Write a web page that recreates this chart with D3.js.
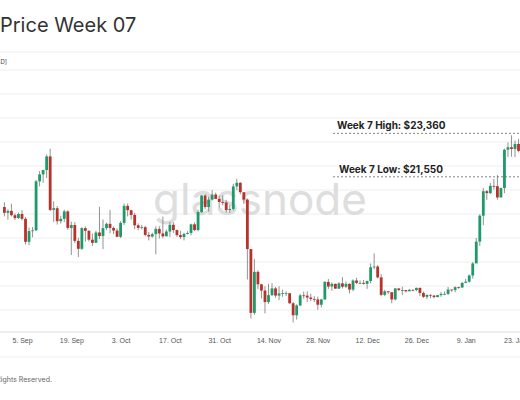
<!DOCTYPE html>
<html><head><meta charset="utf-8">
<script src="https://cdn.jsdelivr.net/npm/d3@7"></script>
<style>body{margin:0;background:#fff}svg{display:block;font-family:Inter,"Noto Sans",sans-serif}</style>
</head><body><svg id="chart" width="520" height="400"></svg>
<script>
// daily candles from 31 Aug 2022, open = previous close
var startDay = "2022-08-31";
var firstOpen = 20290;
var closes = [20050,
 20130,19950,19830,20000,19800,18840,19290,19320,21360,21650,21830,22400,20170,20240,19700,19800,20110,19420,19540,18880,18550,19410,19300,18930,18800,19230,19080,19410,19590,19420,
 19310,19050,19630,20340,20160,19960,19530,19420,19450,19130,19060,19160,19380,19190,19070,19270,19550,19330,19120,19040,19170,19210,19570,19330,20080,20770,20290,20600,20810,20630,20500,
 20480,20160,20210,21150,21300,20910,20600,18540,15880,17590,17070,16810,16330,16620,16900,16600,16690,16700,16700,16280,15780,16190,16610,16600,16520,16460,16440,16220,16440,17170,
 16980,17090,16890,17110,16970,17090,16850,17230,17130,17130,17090,17210,17780,17810,17360,16630,16780,16740,16440,16900,16830,16830,16780,16840,16830,16920,16710,16550,16630,16600,16540,
 16620,16670,16670,16850,16830,16950,16940,17130,17180,17440,17940,18850,19930,20950,20870,21170,21160,20690,21080,22680,22780,22710,22920,22630,23060,23010,23080,23030];
var highs = [20490,
 20200,20430,20030,20060,20160,19880,19440,19460,21420,21790,21840,22480,22720,20530,20330,19930,20180,20150,19680,19660,19010,19450,19480,19320,19180,19300,20300,19770,19640,20170,
 19480,19400,19700,20440,20440,20040,20050,19610,19550,19510,19250,19220,19480,19490,19890,19350,19670,19650,19350,19300,19220,19280,19600,19650,20180,20800,20830,20720,20990,20890,20770,
 20780,20590,20370,21260,21470,21320,20650,20650,18540,18120,17650,17090,16990,17090,17120,16960,16990,16850,16780,16690,16330,16240,16670,16770,16780,16680,16580,16560,16470,17200,
 17290,17150,17100,17160,17370,17180,17110,17280,17340,17230,17250,17220,17940,18360,17870,17500,16840,16770,16750,16900,16890,16970,16830,16880,16860,16940,16940,16770,16650,16650,16630,
 16630,16750,16770,16960,16860,16990,16970,17160,17300,17480,18000,19000,19990,21080,21000,21290,21460,21620,21110,22720,22980,23280,23060,23130,23360,23240,23230,23160];
var lows = [19900,
 19760,19900,19750,19790,19730,18730,18700,19030,19290,21150,21300,21500,20120,19670,19560,19600,19660,19340,18290,18780,18200,18500,18850,18860,18670,18800,18950,18540,19330,19200,
 19160,19040,19000,19540,19900,19770,19370,19320,19360,19070,18900,19020,18320,18980,18990,19070,19050,19210,19050,18960,18900,19150,19110,19280,19280,20030,20200,20100,20570,20620,20230,
 20360,20060,20050,20150,21000,20820,20420,17270,15650,15800,16870,16480,15860,16250,16580,16510,16410,16550,16580,16260,15480,15600,16160,16470,16330,16370,16330,16010,16110,16430,
 16880,16800,16880,16880,16900,16920,16690,16780,17080,17080,17060,16880,17110,17700,17310,16580,16580,16660,16280,16400,16800,16620,16730,16790,16780,16780,16580,16500,16450,16490,16480,
 16530,16550,16620,16620,16760,16740,16880,16910,17130,17140,17310,17970,18670,19530,20590,20830,21020,20600,20690,20870,22370,22390,22370,22570,22490,22740,22560,22750];
var xTicks = ["2022-09-05","2022-09-19","2022-10-03","2022-10-17","2022-10-31","2022-11-14","2022-11-28","2022-12-12","2022-12-26","2023-01-09","2023-01-23"];
var yGrid = [16000,17000,18000,19000,20000,21000,22000,23000,24000,25000,26000];
var weekHigh = 23360, weekLow = 21550;

var parse = d3.timeParse("%Y-%m-%d");
var t0 = parse(startDay);
var candles = closes.map(function(c, i) {
  return {date: d3.timeDay.offset(t0, i), open: i ? closes[i-1] : firstOpen, close: c, high: highs[i], low: lows[i]};
});

var svg = d3.select("#chart");
var x = d3.scaleTime().domain([parse("2022-09-05"), parse("2023-01-23")]).range([22, 515]);
var y = d3.scaleLinear().domain([15000, 27000]).range([334, 46]);

svg.append("text").attr("x", 0).attr("y", 32).attr("font-size", 20).attr("fill", "#333").text("Price Week 07");
svg.append("line").attr("x1", 0).attr("x2", 520).attr("y1", 52).attr("y2", 52).attr("stroke", "#eee");
svg.append("text").attr("x", 7).attr("y", 64).attr("text-anchor", "end").attr("font-size", 6).attr("fill", "#444").text("[USD]");

svg.append("g").selectAll("line").data(yGrid).enter().append("line")
  .attr("x1", 0).attr("x2", 520).attr("y1", function(d) { return y(d); }).attr("y2", function(d) { return y(d); })
  .attr("stroke", "#eeeeee");
svg.append("line").attr("x1", 0).attr("x2", 520).attr("y1", 332).attr("y2", 332).attr("stroke", "#ddd");

svg.append("text").attr("x", 260).attr("y", 215).attr("text-anchor", "middle").attr("font-size", 44)
  .attr("fill", "#d6d6d6").attr("opacity", 0.8).text("glassnode");

var xAxis = svg.append("g").attr("transform", "translate(0,332)")
  .call(d3.axisBottom(x).tickValues(xTicks.map(parse)).tickFormat(d3.timeFormat("%-d. %b")).tickSize(0).tickPadding(6));
xAxis.select(".domain").remove();
xAxis.selectAll("text").attr("font-size", 7).attr("fill", "#555");

var g = svg.append("g");
g.selectAll("line").data(candles).enter().append("line")
  .attr("x1", function(d) { return x(d.date); }).attr("x2", function(d) { return x(d.date); })
  .attr("y1", function(d) { return y(d.high); }).attr("y2", function(d) { return y(d.low); })
  .attr("stroke", "#777").attr("stroke-width", 0.8);
g.selectAll("rect").data(candles).enter().append("rect")
  .attr("x", function(d) { return x(d.date) - 1.4; }).attr("width", 2.8)
  .attr("y", function(d) { return y(Math.max(d.open, d.close)); })
  .attr("height", function(d) { return Math.max(0.8, Math.abs(y(d.open) - y(d.close))); })
  .attr("fill", function(d) { return d.close >= d.open ? "#1e9a6a" : "#b8312b"; });

[[weekHigh, "Week 7 High: $23,360", 337], [weekLow, "Week 7 Low: $21,550", 339]].forEach(function(a) {
  svg.append("line").attr("x1", 333).attr("x2", 520).attr("y1", y(a[0])).attr("y2", y(a[0]))
    .attr("stroke", "#666").attr("stroke-dasharray", "2,2").attr("stroke-width", 0.8);
  svg.append("text").attr("x", a[2]).attr("y", y(a[0]) - 4).attr("font-size", 10).attr("font-weight", "bold")
    .attr("fill", "#222").text(a[1]);
});

svg.append("line").attr("x1", 0).attr("x2", 520).attr("y1", 357).attr("y2", 357).attr("stroke", "#eee");
svg.append("text").attr("x", 52).attr("y", 382).attr("text-anchor", "end").attr("font-size", 7).attr("fill", "#666")
  .text("© 2023 Glassnode. All Rights Reserved.");
</script></body></html>
